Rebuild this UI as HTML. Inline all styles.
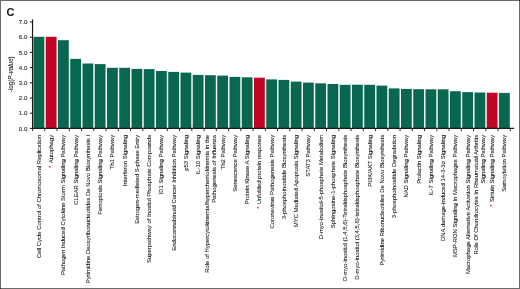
<!DOCTYPE html>
<html><head><meta charset="utf-8"><title>C</title>
<style>
html,body{margin:0;padding:0;background:#fff;}
body{width:520px;height:289px;overflow:hidden;position:relative;font-family:"Liberation Sans",sans-serif;}
svg{position:absolute;left:0;top:0;display:block}
text{font-family:"Liberation Sans",sans-serif;fill:#1c1c1c;stroke:#1c1c1c;stroke-width:0.09px;}
</style></head><body>
<svg width="520" height="289" viewBox="0 0 520 289">
<rect x="0" y="0" width="520" height="289" fill="#fff"/>

<rect x="33.50" y="36.80" width="10.8" height="91.60" fill="#0a674f"/>
<rect x="45.75" y="36.80" width="10.8" height="91.60" fill="#c30525"/>
<rect x="58.00" y="40.20" width="10.8" height="88.20" fill="#0a674f"/>
<rect x="70.25" y="58.90" width="10.8" height="69.50" fill="#0a674f"/>
<rect x="82.50" y="63.50" width="10.8" height="64.90" fill="#0a674f"/>
<rect x="94.75" y="64.10" width="10.8" height="64.30" fill="#0a674f"/>
<rect x="107.00" y="67.80" width="10.8" height="60.60" fill="#0a674f"/>
<rect x="119.25" y="67.80" width="10.8" height="60.60" fill="#0a674f"/>
<rect x="131.50" y="68.90" width="10.8" height="59.50" fill="#0a674f"/>
<rect x="143.75" y="69.10" width="10.8" height="59.30" fill="#0a674f"/>
<rect x="156.00" y="71.00" width="10.8" height="57.40" fill="#0a674f"/>
<rect x="168.25" y="71.90" width="10.8" height="56.50" fill="#0a674f"/>
<rect x="180.50" y="72.60" width="10.8" height="55.80" fill="#0a674f"/>
<rect x="192.75" y="74.90" width="10.8" height="53.50" fill="#0a674f"/>
<rect x="205.00" y="75.20" width="10.8" height="53.20" fill="#0a674f"/>
<rect x="217.25" y="75.60" width="10.8" height="52.80" fill="#0a674f"/>
<rect x="229.50" y="76.90" width="10.8" height="51.50" fill="#0a674f"/>
<rect x="241.75" y="77.30" width="10.8" height="51.10" fill="#0a674f"/>
<rect x="254.00" y="77.70" width="10.8" height="50.70" fill="#c30525"/>
<rect x="266.25" y="79.40" width="10.8" height="49.00" fill="#0a674f"/>
<rect x="278.50" y="79.90" width="10.8" height="48.50" fill="#0a674f"/>
<rect x="290.75" y="81.60" width="10.8" height="46.80" fill="#0a674f"/>
<rect x="303.00" y="82.60" width="10.8" height="45.80" fill="#0a674f"/>
<rect x="315.25" y="83.30" width="10.8" height="45.10" fill="#0a674f"/>
<rect x="327.50" y="84.00" width="10.8" height="44.40" fill="#0a674f"/>
<rect x="339.75" y="84.80" width="10.8" height="43.60" fill="#0a674f"/>
<rect x="352.00" y="84.70" width="10.8" height="43.70" fill="#0a674f"/>
<rect x="364.25" y="84.80" width="10.8" height="43.60" fill="#0a674f"/>
<rect x="376.50" y="85.60" width="10.8" height="42.80" fill="#0a674f"/>
<rect x="388.75" y="88.40" width="10.8" height="40.00" fill="#0a674f"/>
<rect x="401.00" y="88.90" width="10.8" height="39.50" fill="#0a674f"/>
<rect x="413.25" y="89.20" width="10.8" height="39.20" fill="#0a674f"/>
<rect x="425.50" y="89.30" width="10.8" height="39.10" fill="#0a674f"/>
<rect x="437.75" y="89.30" width="10.8" height="39.10" fill="#0a674f"/>
<rect x="450.00" y="91.20" width="10.8" height="37.20" fill="#0a674f"/>
<rect x="462.25" y="92.10" width="10.8" height="36.30" fill="#0a674f"/>
<rect x="474.50" y="92.50" width="10.8" height="35.90" fill="#0a674f"/>
<rect x="486.75" y="92.70" width="10.8" height="35.70" fill="#c30525"/>
<rect x="499.00" y="92.90" width="10.8" height="35.50" fill="#0a674f"/>
<line x1="32.55" y1="19.4" x2="32.55" y2="128.95000000000002" stroke="#1a1a1a" stroke-width="1.2"/>
<line x1="31.95" y1="128.4" x2="514" y2="128.4" stroke="#1a1a1a" stroke-width="1.1"/>
<line x1="29.8" y1="128.40" x2="32.3" y2="128.40" stroke="#1a1a1a" stroke-width="1"/>
<text x="27.3" y="130.65" font-size="6.1" text-anchor="end">0.0</text>
<line x1="29.8" y1="113.20" x2="32.3" y2="113.20" stroke="#1a1a1a" stroke-width="1"/>
<text x="27.3" y="115.45" font-size="6.1" text-anchor="end">1.0</text>
<line x1="29.8" y1="98.00" x2="32.3" y2="98.00" stroke="#1a1a1a" stroke-width="1"/>
<text x="27.3" y="100.25" font-size="6.1" text-anchor="end">2.0</text>
<line x1="29.8" y1="82.80" x2="32.3" y2="82.80" stroke="#1a1a1a" stroke-width="1"/>
<text x="27.3" y="85.05" font-size="6.1" text-anchor="end">3.0</text>
<line x1="29.8" y1="67.60" x2="32.3" y2="67.60" stroke="#1a1a1a" stroke-width="1"/>
<text x="27.3" y="69.85" font-size="6.1" text-anchor="end">4.0</text>
<line x1="29.8" y1="52.40" x2="32.3" y2="52.40" stroke="#1a1a1a" stroke-width="1"/>
<text x="27.3" y="54.65" font-size="6.1" text-anchor="end">5.0</text>
<line x1="29.8" y1="37.20" x2="32.3" y2="37.20" stroke="#1a1a1a" stroke-width="1"/>
<text x="27.3" y="39.45" font-size="6.1" text-anchor="end">6.0</text>
<line x1="29.8" y1="22.00" x2="32.3" y2="22.00" stroke="#1a1a1a" stroke-width="1"/>
<text x="27.3" y="24.25" font-size="6.1" text-anchor="end">7.0</text>
<line x1="32.55" y1="128.4" x2="32.55" y2="131.20000000000002" stroke="#1a1a1a" stroke-width="0.9"/>
<line x1="44.80" y1="128.4" x2="44.80" y2="131.20000000000002" stroke="#1a1a1a" stroke-width="0.9"/>
<line x1="57.05" y1="128.4" x2="57.05" y2="131.20000000000002" stroke="#1a1a1a" stroke-width="0.9"/>
<line x1="69.30" y1="128.4" x2="69.30" y2="131.20000000000002" stroke="#1a1a1a" stroke-width="0.9"/>
<line x1="81.55" y1="128.4" x2="81.55" y2="131.20000000000002" stroke="#1a1a1a" stroke-width="0.9"/>
<line x1="93.80" y1="128.4" x2="93.80" y2="131.20000000000002" stroke="#1a1a1a" stroke-width="0.9"/>
<line x1="106.05" y1="128.4" x2="106.05" y2="131.20000000000002" stroke="#1a1a1a" stroke-width="0.9"/>
<line x1="118.30" y1="128.4" x2="118.30" y2="131.20000000000002" stroke="#1a1a1a" stroke-width="0.9"/>
<line x1="130.55" y1="128.4" x2="130.55" y2="131.20000000000002" stroke="#1a1a1a" stroke-width="0.9"/>
<line x1="142.80" y1="128.4" x2="142.80" y2="131.20000000000002" stroke="#1a1a1a" stroke-width="0.9"/>
<line x1="155.05" y1="128.4" x2="155.05" y2="131.20000000000002" stroke="#1a1a1a" stroke-width="0.9"/>
<line x1="167.30" y1="128.4" x2="167.30" y2="131.20000000000002" stroke="#1a1a1a" stroke-width="0.9"/>
<line x1="179.55" y1="128.4" x2="179.55" y2="131.20000000000002" stroke="#1a1a1a" stroke-width="0.9"/>
<line x1="191.80" y1="128.4" x2="191.80" y2="131.20000000000002" stroke="#1a1a1a" stroke-width="0.9"/>
<line x1="204.05" y1="128.4" x2="204.05" y2="131.20000000000002" stroke="#1a1a1a" stroke-width="0.9"/>
<line x1="216.30" y1="128.4" x2="216.30" y2="131.20000000000002" stroke="#1a1a1a" stroke-width="0.9"/>
<line x1="228.55" y1="128.4" x2="228.55" y2="131.20000000000002" stroke="#1a1a1a" stroke-width="0.9"/>
<line x1="240.80" y1="128.4" x2="240.80" y2="131.20000000000002" stroke="#1a1a1a" stroke-width="0.9"/>
<line x1="253.05" y1="128.4" x2="253.05" y2="131.20000000000002" stroke="#1a1a1a" stroke-width="0.9"/>
<line x1="265.30" y1="128.4" x2="265.30" y2="131.20000000000002" stroke="#1a1a1a" stroke-width="0.9"/>
<line x1="277.55" y1="128.4" x2="277.55" y2="131.20000000000002" stroke="#1a1a1a" stroke-width="0.9"/>
<line x1="289.80" y1="128.4" x2="289.80" y2="131.20000000000002" stroke="#1a1a1a" stroke-width="0.9"/>
<line x1="302.05" y1="128.4" x2="302.05" y2="131.20000000000002" stroke="#1a1a1a" stroke-width="0.9"/>
<line x1="314.30" y1="128.4" x2="314.30" y2="131.20000000000002" stroke="#1a1a1a" stroke-width="0.9"/>
<line x1="326.55" y1="128.4" x2="326.55" y2="131.20000000000002" stroke="#1a1a1a" stroke-width="0.9"/>
<line x1="338.80" y1="128.4" x2="338.80" y2="131.20000000000002" stroke="#1a1a1a" stroke-width="0.9"/>
<line x1="351.05" y1="128.4" x2="351.05" y2="131.20000000000002" stroke="#1a1a1a" stroke-width="0.9"/>
<line x1="363.30" y1="128.4" x2="363.30" y2="131.20000000000002" stroke="#1a1a1a" stroke-width="0.9"/>
<line x1="375.55" y1="128.4" x2="375.55" y2="131.20000000000002" stroke="#1a1a1a" stroke-width="0.9"/>
<line x1="387.80" y1="128.4" x2="387.80" y2="131.20000000000002" stroke="#1a1a1a" stroke-width="0.9"/>
<line x1="400.05" y1="128.4" x2="400.05" y2="131.20000000000002" stroke="#1a1a1a" stroke-width="0.9"/>
<line x1="412.30" y1="128.4" x2="412.30" y2="131.20000000000002" stroke="#1a1a1a" stroke-width="0.9"/>
<line x1="424.55" y1="128.4" x2="424.55" y2="131.20000000000002" stroke="#1a1a1a" stroke-width="0.9"/>
<line x1="436.80" y1="128.4" x2="436.80" y2="131.20000000000002" stroke="#1a1a1a" stroke-width="0.9"/>
<line x1="449.05" y1="128.4" x2="449.05" y2="131.20000000000002" stroke="#1a1a1a" stroke-width="0.9"/>
<line x1="461.30" y1="128.4" x2="461.30" y2="131.20000000000002" stroke="#1a1a1a" stroke-width="0.9"/>
<line x1="473.55" y1="128.4" x2="473.55" y2="131.20000000000002" stroke="#1a1a1a" stroke-width="0.9"/>
<line x1="485.80" y1="128.4" x2="485.80" y2="131.20000000000002" stroke="#1a1a1a" stroke-width="0.9"/>
<line x1="498.05" y1="128.4" x2="498.05" y2="131.20000000000002" stroke="#1a1a1a" stroke-width="0.9"/>
<line x1="510.30" y1="128.4" x2="510.30" y2="131.20000000000002" stroke="#1a1a1a" stroke-width="0.9"/>
<text transform="translate(13.4,74.3) rotate(-90)" font-size="6.3" text-anchor="middle">-log(<tspan font-style="italic">P-value</tspan>)</text>
<text x="6.6" y="15.8" font-size="11" font-weight="bold" fill="#000" stroke="#000" stroke-width="0.3" style="font-weight:700">C</text>
<text transform="translate(40.90,134.9) rotate(-90) scale(0.955,1)" font-size="6.2" text-anchor="end">Cell Cycle Control of Chromosomal Replication</text>
<text transform="translate(53.15,134.9) rotate(-90) scale(0.955,1)" font-size="6.2" text-anchor="end"><tspan fill="#c8102e" stroke="#c8102e" font-size="5.2">*</tspan><tspan dx="2.8">Autophagy</tspan></text>
<text transform="translate(65.40,134.9) rotate(-90) scale(0.955,1)" font-size="6.2" text-anchor="end">Pathogen Induced Cytokine Storm Signaling Pathway</text>
<text transform="translate(77.65,134.9) rotate(-90) scale(0.955,1)" font-size="6.2" text-anchor="end">CLEAR Signaling Pathway</text>
<text transform="translate(89.90,134.9) rotate(-90) scale(0.955,1)" font-size="6.2" text-anchor="end">Pyrimidine Deoxyribonucleotides De Novo Biosynthesis I</text>
<text transform="translate(102.15,134.9) rotate(-90) scale(0.955,1)" font-size="6.2" text-anchor="end">Ferroptosis Signaling Pathway</text>
<text transform="translate(114.40,134.9) rotate(-90) scale(0.955,1)" font-size="6.2" text-anchor="end">Th1 Pathway</text>
<text transform="translate(126.65,134.9) rotate(-90) scale(0.955,1)" font-size="6.2" text-anchor="end">Interferon Signaling</text>
<text transform="translate(138.90,134.9) rotate(-90) scale(0.955,1)" font-size="6.2" text-anchor="end">Estrogen-mediated S-phase Entry</text>
<text transform="translate(151.15,134.9) rotate(-90) scale(0.955,1)" font-size="6.2" text-anchor="end">Superpathway of Inositol Phosphate Compounds</text>
<text transform="translate(163.40,134.9) rotate(-90) scale(0.955,1)" font-size="6.2" text-anchor="end">ID1 Signaling Pathway</text>
<text transform="translate(175.65,134.9) rotate(-90) scale(0.955,1)" font-size="6.2" text-anchor="end">Endocannabinoid Cancer Inhibition Pathway</text>
<text transform="translate(187.90,134.9) rotate(-90) scale(0.955,1)" font-size="6.2" text-anchor="end">p53 Signaling</text>
<text transform="translate(200.15,134.9) rotate(-90) scale(0.955,1)" font-size="6.2" text-anchor="end">IL-10 Signaling</text>
<text transform="translate(208.60,134.9) rotate(-90) scale(0.955,1)" font-size="6.2" text-anchor="end">Role of Hypercytokinemia/hyperchemokinemia in the</text>
<text transform="translate(215.70,134.9) rotate(-90) scale(0.955,1)" font-size="6.2" text-anchor="end">Pathogenesis of Influenza</text>
<text transform="translate(224.65,134.9) rotate(-90) scale(0.955,1)" font-size="6.2" text-anchor="end">Th2 Pathway</text>
<text transform="translate(236.90,134.9) rotate(-90) scale(0.955,1)" font-size="6.2" text-anchor="end">Senescence Pathway</text>
<text transform="translate(249.15,134.9) rotate(-90) scale(0.955,1)" font-size="6.2" text-anchor="end">Protein Kinase A Signaling</text>
<text transform="translate(261.40,134.9) rotate(-90) scale(0.955,1)" font-size="6.2" text-anchor="end"><tspan fill="#c8102e" stroke="#c8102e" font-size="5.2">*</tspan><tspan dx="2.8">Unfolded protein response</tspan></text>
<text transform="translate(273.65,134.9) rotate(-90) scale(0.955,1)" font-size="6.2" text-anchor="end">Coronavirus Pathogenesis Pathway</text>
<text transform="translate(285.90,134.9) rotate(-90) scale(0.955,1)" font-size="6.2" text-anchor="end">3-phosphoinositide Biosynthesis</text>
<text transform="translate(298.15,134.9) rotate(-90) scale(0.955,1)" font-size="6.2" text-anchor="end">MYC Mediated Apoptosis Signaling</text>
<text transform="translate(310.40,134.9) rotate(-90) scale(0.955,1)" font-size="6.2" text-anchor="end">STAT3 Pathway</text>
<text transform="translate(322.65,134.9) rotate(-90) scale(0.955,1)" font-size="6.2" text-anchor="end">D-myo-inositol-5-phosphate Metabolism</text>
<text transform="translate(334.90,134.9) rotate(-90) scale(0.955,1)" font-size="6.2" text-anchor="end">Sphingosine-1-phosphate Signaling</text>
<text transform="translate(347.15,134.9) rotate(-90) scale(0.955,1)" font-size="6.2" text-anchor="end">D-myo-inositol (1,4,5,6)-Tetrakisphosphate Biosynthesis</text>
<text transform="translate(359.40,134.9) rotate(-90) scale(0.955,1)" font-size="6.2" text-anchor="end">D-myo-inositol (3,4,5,6)-tetrakisphosphate Biosynthesis</text>
<text transform="translate(371.65,134.9) rotate(-90) scale(0.955,1)" font-size="6.2" text-anchor="end">PI3K/AKT Signaling</text>
<text transform="translate(383.90,134.9) rotate(-90) scale(0.955,1)" font-size="6.2" text-anchor="end">Pyrimidine Ribonucleotides De Novo Biosynthesis</text>
<text transform="translate(396.15,134.9) rotate(-90) scale(0.955,1)" font-size="6.2" text-anchor="end">3-phosphoinositide Degradation</text>
<text transform="translate(408.40,134.9) rotate(-90) scale(0.955,1)" font-size="6.2" text-anchor="end">NAD Signaling Pathway</text>
<text transform="translate(420.65,134.9) rotate(-90) scale(0.955,1)" font-size="6.2" text-anchor="end">Prolactin Signaling</text>
<text transform="translate(432.90,134.9) rotate(-90) scale(0.955,1)" font-size="6.2" text-anchor="end">IL-7 Signaling Pathway</text>
<text transform="translate(445.15,134.9) rotate(-90) scale(0.955,1)" font-size="6.2" text-anchor="end">DNA damage-induced 14-3-3σ Signaling</text>
<text transform="translate(457.40,134.9) rotate(-90) scale(0.955,1)" font-size="6.2" text-anchor="end">MSP-RON Signaling In Macrophages Pathway</text>
<text transform="translate(469.65,134.9) rotate(-90) scale(0.955,1)" font-size="6.2" text-anchor="end">Macrophage Alternative Activation Signaling Pathway</text>
<text transform="translate(478.10,134.9) rotate(-90) scale(0.955,1)" font-size="6.2" text-anchor="end">Role Of Chondrocytes In Rheumatoid Arthritis</text>
<text transform="translate(485.20,134.9) rotate(-90) scale(0.955,1)" font-size="6.2" text-anchor="end">Signaling Pathway</text>
<text transform="translate(494.15,134.9) rotate(-90) scale(0.955,1)" font-size="6.2" text-anchor="end"><tspan fill="#c8102e" stroke="#c8102e" font-size="5.2">*</tspan><tspan dx="2.8">Sirtuin Signaling Pathway</tspan></text>
<text transform="translate(506.40,134.9) rotate(-90) scale(0.955,1)" font-size="6.2" text-anchor="end">Sumoylation Pathway</text>
<rect x="0" y="0" width="520" height="1" fill="#6b6b6b"/>
<rect x="0" y="0" width="1" height="289" fill="#6b6b6b"/>
<rect x="519" y="0" width="1" height="289" fill="#6b6b6b"/>
<rect x="0" y="288" width="520" height="1" fill="#6b6b6b"/>
<rect x="519" y="0" width="1" height="1" fill="#222"/>
<rect x="0" y="288" width="1" height="1" fill="#333"/>
</svg></body></html>
